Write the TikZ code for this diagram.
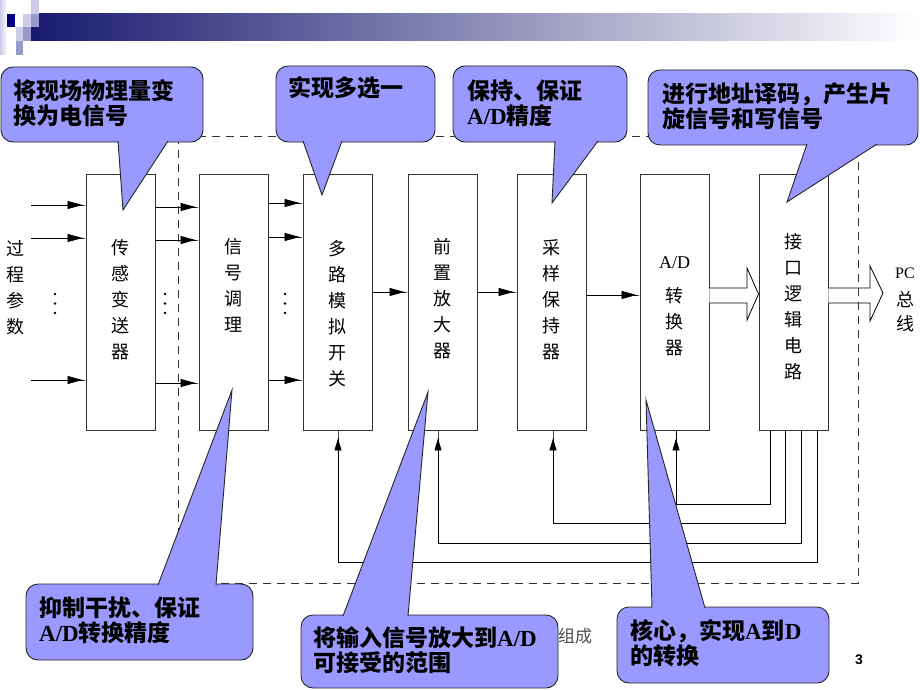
\documentclass[tikz,border=0pt]{standalone}
\usepackage{fontspec}
\setmainfont{Noto Sans CJK SC}
\newfontfamily\tms{Liberation Serif}
\newfontfamily\arl{Liberation Sans}
\usetikzlibrary{arrows.meta,calc}
\definecolor{cfill}{RGB}{153,153,255}
\definecolor{navyA}{RGB}{0,0,128}
\definecolor{barL}{RGB}{25,25,112}
\definecolor{sqL}{RGB}{204,204,232}
\definecolor{sqM}{RGB}{153,153,204}
\tikzset{
 blk/.style={draw=black!80, line width=0.9pt, fill=white, minimum width=69pt, minimum height=256pt, inner sep=0pt},
 vt/.style={align=center, inner sep=0pt, font=\fontsize{18}{26}\selectfont},
 arr/.style={line width=0.8pt, -{Triangle[length=15pt,width=8pt,sep=0pt] Rectangle[length=3pt,width=0.8pt,sep=0pt]}},
 arrv/.style={line width=0.8pt, -{Triangle[length=12pt,width=7pt,sep=0pt] Rectangle[length=8pt,width=0.8pt,sep=0pt]}},
 fat/.style={line width=0.8pt, draw=black, fill=white},
 frame/.style={dash pattern=on 8pt off 6pt, line width=1pt, draw=black!80},
 call/.style={fill=cfill, draw=black!85, line width=0.9pt},
 ctext/.style={align=left, anchor=west, inner sep=0pt, font=\fontsize{23}{25}\selectfont\bfseries},
}
\begin{document}
\begin{tikzpicture}[x=1pt,y=-1pt]
\useasboundingbox (0,0) rectangle (920,690);
\fill[white] (0,0) rectangle (920,690);
% header
\shade[left color=sqL, right color=white] (0,0) rectangle (7,55);
\shade[left color=barL, right color=white] (31,14) rectangle (920,41);
\fill[navyA] (7.3,14) rectangle (15,27.3);
\fill[sqL] (23.3,14) rectangle (31,27.3);
\fill[sqL] (31,0) rectangle (39,14);
\fill[sqM] (31,14) rectangle (39,27.3);
\fill[sqL] (15.7,27.3) rectangle (23.3,40.7);
\fill[sqM] (23.3,27.3) rectangle (31,40.7);
\fill[sqM] (15.7,40.7) rectangle (23.3,55);

% blocks
\node[blk] (b1) at (120.5,302) {};
\node[blk] (b2) at (233.5,302) {};
\node[blk] (b3) at (337.5,302) {};
\node[blk] (b4) at (442.5,302) {};
\node[blk] (b5) at (551.5,302) {};
\node[blk] (b6) at (674.5,302) {};
\node[blk] (b7) at (793.5,302) {};

\node[vt] (t1) at (120.5,300) {传\\感\\变\\送\\器};
\node[vt] (t2) at (233.5,285.5) {信\\号\\调\\理};
\node[vt] (t3) at (337.5,314) {多\\路\\模\\拟\\开\\关};
\node[vt] (t4) at (442.5,298.5) {前\\置\\放\\大\\器};
\node[vt] (t5) at (551.5,300) {采\\样\\保\\持\\器};
\node[vt] (t6a) at (674.5,263) {\tms A/D};
\node[vt] (t6) at (674.5,322) {转\\换\\器};
\node[vt] (t7) at (793.5,307) {接\\口\\逻\\辑\\电\\路};
\node[vt] (tin) at (15,287.5) {过\\程\\参\\数};
\node[inner sep=0pt, font=\tms\fontsize{16}{16}\selectfont] (tpc1) at (905,273) {PC};
\node[vt, font=\fontsize{18}{24}\selectfont] (tpc2) at (905,311.5) {总\\线};

% dots
\foreach \x in {55,165,285} \foreach \y in {294,303.5,313} \fill (\x,\y) circle (1.4);

% input arrows
\coordinate (i1) at (31,205);
\coordinate (i2) at (31,238);
\coordinate (i3) at (31,380);
\draw[arr] (i1) -- (b1.west |- i1);
\draw[arr] (i2) -- (b1.west |- i2);
\draw[arr] (i3) -- (b1.west |- i3);
\draw[arr] (b1.east |- 0,207) -- (b2.west |- 0,207);
\draw[arr] (b1.east |- 0,240) -- (b2.west |- 0,240);
\draw[arr] (b1.east |- 0,383) -- (b2.west |- 0,383);
\draw[arr] (b2.east |- 0,203) -- (b3.west |- 0,203);
\draw[arr] (b2.east |- 0,237) -- (b3.west |- 0,237);
\draw[arr] (b2.east |- 0,380) -- (b3.west |- 0,380);
\draw[arr] (b3.east |- 0,292) -- (b4.west |- 0,292);
\draw[arr] (b4.east |- 0,292) -- (b5.west |- 0,292);
\draw[arr] (b5.east |- 0,295) -- (b6.west |- 0,295);

% feedback lines
\draw[arrv] (b7.south -| 770,0) |- (676,504) -- (b6.south -| 676,0);
\draw[arrv] (b7.south -| 785,0) |- (553,523) -- (b5.south -| 553,0);
\draw[arrv] (b7.south -| 801,0) |- (438,543) -- (b4.south -| 438,0);
\draw[arrv] (b7.south -| 817,0) |- (338,562) -- (b3.south -| 338,0);

% hollow arrows
\draw[fat] (b6.east |- 0,288) -- (747,288) -- (747,268) -- (b7.west |- 0,294) -- (747,320) -- (747,303) -- (b6.east |- 0,303);
\coordinate (pcbus) at (883,293);
\draw[fat] (b7.east |- 0,288) -- (870,288) -- (870,266) -- (pcbus) -- (870,321) -- (870,303) -- (b7.east |- 0,303);

% dashed frame
\draw[frame] (178,136) rectangle (858,583);

% partly hidden caption and page number
\node[inner sep=0pt, text=black!70, font=\fontsize{17}{17}\selectfont] (zc) at (575,636) {组成};
\node[inner sep=0pt, font=\arl\bfseries\fontsize{14}{14}\selectfont] (pg) at (859,660) {3};

% callouts
\filldraw[call, rounded corners=12pt] (1,67) rectangle (203,142);
\filldraw[call] (118,141) -- (123,210) -- (168,141);
\node[ctext] (c1) at (13,103.5) {将现场物理量变\\换为电信号};

\filldraw[call, rounded corners=12pt] (276,66) rectangle (435,142);
\filldraw[call] (303,141) -- (322,195) -- (342,141);
\node[ctext] (c2) at (288,88) {实现多选一};

\filldraw[call, rounded corners=12pt] (453,66) rectangle (627,142);
\filldraw[call] (555,141) -- (552,203) -- (598,141);
\node[ctext] (c3) at (467,103.5) {保持、保证\\{\tms A/D}精度};

\filldraw[call, rounded corners=12pt] (648,70) rectangle (918,145);
\filldraw[call] (807,144) -- (787,202) -- (877,144);
\node[ctext] (c4) at (662,106.5) {进行地址译码，产生片\\旋信号和写信号};

\filldraw[call, rounded corners=12pt] (26,584) rectangle (253,660);
\filldraw[call] (158,585) -- (232,390) -- (216,585);
\node[ctext] (c5) at (39,620.5) {抑制干扰、保证\\{\tms A/D}转换精度};

\filldraw[call, rounded corners=12pt] (301,615) rectangle (558,688);
\filldraw[call] (343,616) -- (428,392) -- (408,616);
\node[ctext] (c6) at (313,650.5) {将输入信号放大到{\tms A/D}\\可接受的范围};

\filldraw[call, rounded corners=12pt] (617,607) rectangle (829,683);
\filldraw[call] (652,608) -- (646,400) -- (705,608);
\node[ctext] (c7) at (630,643.5) {核心，实现{\tms A}到{\tms D}\\的转换};
\end{tikzpicture}
\end{document}
